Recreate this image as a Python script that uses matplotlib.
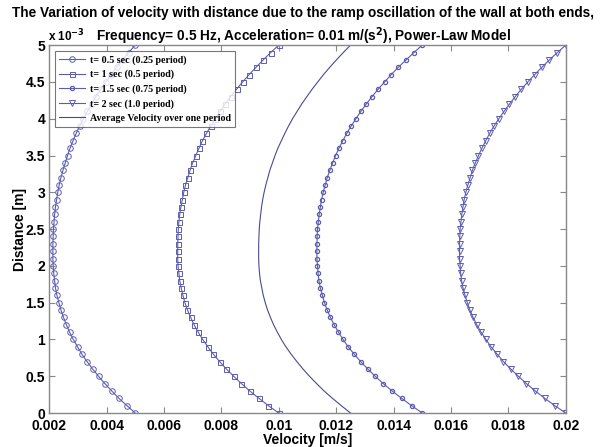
import numpy as np
import matplotlib
matplotlib.use('Agg')
import matplotlib.pyplot as plt

# distance across the gap, in units of 1e-3 m
distance = np.linspace(0, 5, 51)

# velocity profiles, in units of 1e-3 m/s (bottom wall -> top wall)
v_t05 = [5.00, 4.71, 4.43, 4.18, 3.94, 3.72, 3.51, 3.32, 3.14, 2.99, 2.84,
         2.71, 2.60, 2.50, 2.41, 2.34, 2.27, 2.22, 2.19, 2.16, 2.14, 2.13,
         2.13, 2.13, 2.14, 2.15, 2.17, 2.19, 2.22, 2.26, 2.30, 2.35, 2.41,
         2.48, 2.56, 2.64, 2.73, 2.83, 2.94, 3.06, 3.19, 3.33, 3.48, 3.63,
         3.80, 3.97, 4.16, 4.35, 4.56, 4.77, 5.00]
v_t1 = [10.00, 9.64, 9.31, 8.99, 8.70, 8.43, 8.17, 7.94, 7.72, 7.53, 7.35,
        7.19, 7.05, 6.93, 6.82, 6.73, 6.66, 6.60, 6.55, 6.52, 6.49, 6.48,
        6.48, 6.48, 6.49, 6.50, 6.52, 6.55, 6.59, 6.64, 6.69, 6.75, 6.83,
        6.91, 7.00, 7.11, 7.22, 7.34, 7.48, 7.63, 7.78, 7.95, 8.13, 8.32,
        8.53, 8.74, 8.97, 9.21, 9.46, 9.72, 10.00]
v_avg = [12.50, 12.18, 11.87, 11.58, 11.32, 11.07, 10.84, 10.63, 10.43, 10.25,
         10.09, 9.95, 9.82, 9.71, 9.61, 9.53, 9.46, 9.41, 9.36, 9.33, 9.31,
         9.30, 9.30, 9.30, 9.31, 9.32, 9.34, 9.37, 9.40, 9.44, 9.49, 9.55,
         9.62, 9.69, 9.78, 9.87, 9.97, 10.09, 10.21, 10.34, 10.48, 10.64,
         10.80, 10.98, 11.16, 11.36, 11.56, 11.78, 12.01, 12.25, 12.50]
v_t15 = [15.00, 14.63, 14.28, 13.95, 13.64, 13.36, 13.10, 12.85, 12.63, 12.42,
         12.24, 12.08, 11.93, 11.80, 11.69, 11.59, 11.52, 11.45, 11.40, 11.37,
         11.35, 11.33, 11.33, 11.33, 11.34, 11.35, 11.38, 11.41, 11.45, 11.49,
         11.55, 11.62, 11.69, 11.78, 11.88, 11.98, 12.10, 12.23, 12.37, 12.52,
         12.69, 12.86, 13.05, 13.25, 13.46, 13.69, 13.92, 14.17, 14.44, 14.71,
         15.00]
v_t2 = [20.00, 19.62, 19.27, 18.94, 18.63, 18.35, 18.08, 17.83, 17.61, 17.40,
        17.22, 17.05, 16.90, 16.77, 16.66, 16.57, 16.49, 16.42, 16.37, 16.34,
        16.32, 16.30, 16.30, 16.30, 16.31, 16.32, 16.35, 16.38, 16.42, 16.46,
        16.52, 16.59, 16.67, 16.75, 16.85, 16.96, 17.08, 17.21, 17.35, 17.50,
        17.67, 17.85, 18.04, 18.24, 18.45, 18.68, 18.92, 19.17, 19.43, 19.71,
        20.00]

labels = ['t= 0.5 sec (0.25 period)', 't= 1 sec (0.5 period)',
          't= 1.5 sec (0.75 period)', 't= 2 sec (1.0 period)',
          'Average Velocity over one period']

x_ticks = [0.002, 0.004, 0.006, 0.008, 0.01, 0.012, 0.014, 0.016, 0.018, 0.02]
y_ticks = [0, 0.5, 1, 1.5, 2, 2.5, 3, 3.5, 4, 4.5, 5]

col = '#5c5cb0'
plt.rcParams['font.family'] = ['Liberation Sans', 'DejaVu Sans']

fig = plt.figure(figsize=(6.07, 4.47), dpi=100)
ax = fig.add_axes([0.081, 0.076, 0.851, 0.823])

mm = 1e-3
ax.plot(np.array(v_t05) * mm, distance, color=col, lw=0.8, marker='o', ms=4,
        mfc='none', mew=0.7, label=labels[0])
ax.plot(np.array(v_t1) * mm, distance, color=col, lw=0.8, marker='s', ms=3.6,
        mfc='none', mew=0.7, label=labels[1])
ax.plot(np.array(v_t15) * mm, distance, color=col, lw=0.8, marker='o', ms=3,
        mfc='none', mew=0.9, label=labels[2])
ax.plot(np.array(v_t2) * mm, distance, color=col, lw=0.8, marker='v', ms=4,
        mfc='none', mew=0.7, label=labels[3])
ax.plot(np.array(v_avg) * mm, distance, color='#4a4a90', lw=0.8, label=labels[4])

ax.set_xlim(0.002, 0.02)
ax.set_ylim(0, 5)
ax.set_xticks(x_ticks)
ax.set_yticks(y_ticks)
ax.set_xticklabels(['%g' % t for t in x_ticks])
ax.set_yticklabels(['%g' % t for t in y_ticks])
ax.tick_params(direction='in', top=True, right=True, length=4, width=0.8,
               color='#888888', labelsize=10, pad=3)
ax.tick_params(axis='x', pad=4)
for lab in ax.get_xticklabels() + ax.get_yticklabels():
    lab.set_fontweight('bold')
for s in ax.spines.values():
    s.set_color('#888888')
    s.set_linewidth(1.0)

ax.set_xlabel('Velocity [m/s]', fontsize=10, fontweight='bold', labelpad=0)
ax.set_ylabel('Distance [m]', fontsize=10, fontweight='bold', labelpad=-1)

# two-line title, each line placed on its own
fig.text(0.5, 0.971, 'The Variation of velocity with distance due to the ramp '
         'oscillation of the wall at both ends,', ha='center', va='center',
         fontsize=9.8, fontweight='bold')
fig.text(0.5, 0.919, 'Frequency= 0.5 Hz, Acceleration= 0.01 m/(s$^\\mathbf{2}$), '
         'Power-Law Model', ha='center', va='center',
         fontsize=9.8, fontweight='bold')
fig.text(0.079, 0.908, 'x 10$^{\\mathbf{-3}}$', fontsize=8.5, fontweight='bold',
         va='baseline')

leg = ax.legend(loc='upper left', frameon=True, fancybox=False,
                edgecolor='#555555', borderaxespad=0.6, handlelength=2.6,
                handletextpad=0.5, labelspacing=0.5, borderpad=0.4,
                prop={'family': 'Liberation Serif', 'weight': 'bold', 'size': 7.2})
leg.get_frame().set_linewidth(0.8)

fig.savefig('out.png', dpi=100)
